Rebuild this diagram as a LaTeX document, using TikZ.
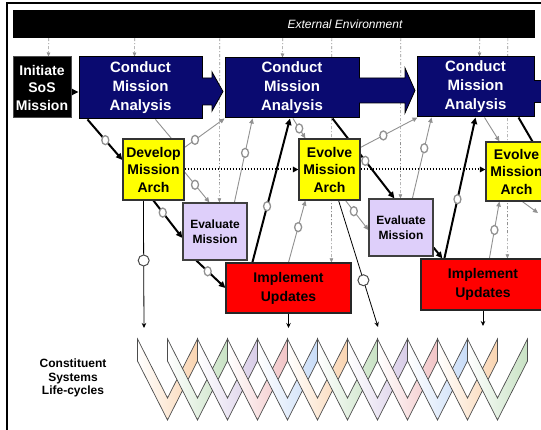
\documentclass[tikz,border=0pt]{standalone}
\usepackage{fontspec}
\setmainfont{Liberation Sans}
\usetikzlibrary{arrows.meta,calc,shapes.geometric}
\pgfdeclarelayer{back}
\pgfdeclarelayer{bg}
\pgfsetlayers{back,bg,main}

\definecolor{navybox}{RGB}{10,10,112}
\definecolor{archyellow}{RGB}{255,255,0}
\definecolor{evallav}{RGB}{222,207,250}
\definecolor{implred}{RGB}{255,0,0}
\definecolor{linkgrey}{RGB}{145,145,145}
\definecolor{lcpeach}{RGB}{250,212,176}
\definecolor{lcgreen}{RGB}{200,226,196}
\definecolor{lclav}{RGB}{216,204,232}
\definecolor{lcpink}{RGB}{242,196,198}
\definecolor{lcblue}{RGB}{200,220,248}

\tikzset{
  box/.style={draw, line width=1pt, inner sep=0pt, align=center,
    font=\bfseries\fontsize{14}{17.5}\selectfont},
  conduct/.style={box, fill=navybox, draw=black, text=white,
    font=\bfseries\fontsize{15}{19}\selectfont},
  initbox/.style={box, fill=black, draw=black!70, text=white},
  arch/.style={box, fill=archyellow, draw=black!80, line width=1.2pt},
  evalbox/.style={box, fill=evallav, draw=black!75, line width=1.2pt,
    font=\bfseries\fontsize{12}{14.5}\selectfont},
  impl/.style={box, fill=implred, draw=black!85, line width=1.2pt,
    font=\bfseries\fontsize{14}{19}\selectfont},
  flow/.style={line width=2pt, -{Triangle[length=6.5pt,width=6pt]}},
  flowplain/.style={line width=2pt},
  feed/.style={linkgrey, line width=0.9pt, -{Triangle[length=5pt,width=4.5pt]}},
  feedplain/.style={linkgrey, line width=0.9pt},
  handoff/.style={line width=2pt, dash pattern=on 1.5pt off 1.5pt,
    -{Triangle[length=5.5pt,width=5.5pt]}},
  envlink/.style={linkgrey, line width=0.6pt,
    dash pattern=on 3pt off 2pt on 1pt off 2pt, -{Triangle[length=4pt,width=3.5pt]}},
  drop/.style={black, line width=0.8pt, -{Stealth[length=5pt,width=4.5pt]}},
  cyc/.style={ellipse, draw=linkgrey, fill=white, line width=1.3pt,
    minimum width=7pt, minimum height=9pt, inner sep=0pt},
  bigcyc/.style={circle, draw=black!70, fill=white, line width=1pt,
    minimum size=11pt, inner sep=0pt},
  vee/.style={draw=black!70, line width=0.7pt, line join=miter},
  blockarrow/.style={fill=navybox},
  blockedge/.style={draw=black, line width=0.8pt},
}

\begin{document}
\begin{tikzpicture}[x=1pt, y=-1pt]
\useasboundingbox (0,0) rectangle (541,430);
\begin{pgfonlayer}{back}
\fill[white] (0,0) rectangle (541,430);
\end{pgfonlayer}

% outer frame
\draw[line width=2pt] (7,430) -- (7,3) -- (541,3);

% external environment band
\node[fill=black, draw=none, minimum width=522pt, minimum height=28pt, inner sep=0pt] (bar) at (274,24) {};
\node[text=white, font=\itshape\fontsize{12}{14}\selectfont, inner sep=0pt] (envlabel) at (345,24) {External Environment};

% process boxes
\node[initbox, minimum width=58pt, minimum height=61pt] (init) at (42,87.5) {Initiate\\SoS\\Mission};
\node[conduct, minimum width=123pt, minimum height=62pt] (ca1) at (140.5,88) {Conduct\\Mission\\Analysis};
\node[conduct, minimum width=134pt, minimum height=60pt] (ca2) at (292,88) {Conduct\\Mission\\Analysis};
\node[conduct, minimum width=117pt, minimum height=60pt] (ca3) at (475.5,87) {Conduct\\Mission\\Analysis};
\node[arch, minimum width=61pt, minimum height=61pt] (dev) at (153.5,169.5) {Develop\\Mission\\Arch};
\node[arch, minimum width=61pt, minimum height=61pt] (evo1) at (329.5,169.5) {Evolve\\Mission\\Arch};
\node[arch, minimum width=61pt, minimum height=59pt] (evo2) at (516.5,171.5) {Evolve\\Mission\\Arch};
\node[evalbox, minimum width=64pt, minimum height=57pt] (eval1) at (215,231.5) {Evaluate\\Mission};
\node[evalbox, minimum width=64pt, minimum height=57pt] (eval2) at (401,227.5) {Evaluate\\Mission};
\node[impl, minimum width=125pt, minimum height=50pt] (imp1) at (288.5,288) {Implement\\Updates};
\node[impl, minimum width=124pt, minimum height=51pt] (imp2) at (483,284.5) {Implement\\Updates};

% block arrows joining the mission analysis boxes
\fill[blockarrow] (201,78) -- (212,78) -- (212,72) -- (223,91.5) -- (212,111) -- (212,105) -- (201,105) -- cycle;
\draw[blockedge] (202,78) -- (212,78) -- (212,72) -- (223,91.5) -- (212,111) -- (212,105) -- (202,105);
\fill[blockarrow] (358,78) -- (405,78) -- (405,68) -- (415,90.5) -- (405,113) -- (405,103) -- (358,103) -- cycle;
\draw[blockedge] (359,78) -- (405,78) -- (405,68) -- (415,90.5) -- (405,113) -- (405,103) -- (359,103);
\fill[blockarrow] (533,80) -- (545,80) -- (545,102) -- (533,102) -- cycle;
\draw[blockedge] (534,80) -- (545,80);
\draw[blockedge] (534,102) -- (545,102);

% constituent systems life-cycles
\node[font=\bfseries\fontsize{12}{13.5}\selectfont, align=center, inner sep=0pt] (lclabel) at (73,378) {Constituent\\Systems\\Life-cycles};
\foreach \i/\c in {0/lcpeach,1/lcgreen,2/lclav,3/lcpink,4/lcblue,5/lcpeach,6/lcgreen,7/lclav,8/lcpink,9/lcblue,10/lcpeach,11/lcgreen}{
  \pgfmathsetmacro{\xa}{137.5+30*\i}
  \draw[vee, left color=white, right color=\c]
    (\xa,339) -- (\xa+30,398) -- (\xa+60,339) -- (\xa+60,361) -- (\xa+30,420) -- (\xa,361) -- cycle;
}

\coordinate (lc1) at (144,328);
\coordinate (lc2) at (288.5,328);
\coordinate (lc3) at (378,327);
\coordinate (lc4) at (483,326);
\coordinate (exitR) at (538,213);

\begin{pgfonlayer}{bg}
% environment inputs
\draw[envlink] ([xshift=36]bar.south west) -- ([xshift=36]init.north west);
\draw[envlink] ([xshift=122]bar.south west) -- ([xshift=56]ca1.north west);
\draw[envlink] ([xshift=207]bar.south west) -- ([xshift=37]eval1.north west);
\draw[envlink] ([xshift=270]bar.south west) -- ([xshift=58]ca2.north west);
\draw[envlink] ([xshift=319]bar.south west) -- ([xshift=106]imp1.north west);
\draw[envlink] ([xshift=388]bar.south west) -- ([xshift=32]eval2.north west);
\draw[envlink] ([xshift=467]bar.south west) -- ([xshift=63]ca3.north west);
\draw[envlink] ([xshift=495]bar.south west) -- ([xshift=87]imp2.north west);

% main flow
\draw[flow] ([yshift=-4.5]init.east) -- ([yshift=-4]ca1.west);
\draw[flow] ([xshift=9]ca1.south west) -- node[cyc, pos=0.51] (cy1) {} ([yshift=9.5]dev.west);
\draw[flow] (dev.south) -- node[cyc, pos=0.32] (cy2) {} ([yshift=-6.5]eval1.west);
\draw[flow] ([xshift=14]eval1.south west) -- node[cyc, pos=0.39] (cy3) {} (imp1.west);
\draw[flow] ([xshift=27]imp1.north west) -- node[cyc, pos=0.39] (cy4) {} ([xshift=-2]ca2.south);
\draw[flow] ([xshift=-27]ca2.south east) -- node[cyc, pos=0.53] (cy5) {} ([xshift=26]eval2.north west);
\draw[flow] ([yshift=9]eval2.south east) -- ([xshift=22]imp2.north west);
\draw[flow] ([xshift=24]imp2.north west) -- node[cyc, pos=0.42] (cy6) {} (ca3.south);
\draw[flowplain] ([xshift=-16]ca3.south east) -- ([xshift=47]evo2.north west);

% architecture hand-offs
\draw[handoff] (dev.east) -- (evo1.west);
\draw[handoff] (evo1.east) -- (evo1.east -| evo2.west);

% feedback paths
\draw[feedplain] ([xshift=77]ca1.south west) -- ([xshift=49]dev.north west);
\draw[feed] ([yshift=-9]dev.north east) -- node[cyc, pos=0.26] (cy7) {} (ca2.south west);
\draw[feed] ([yshift=-2.5]dev.east) -- node[cyc, pos=0.42] (cy8) {} ([xshift=27]eval1.north west);
\draw[feed] ([xshift=52]eval1.north west) -- node[cyc, pos=0.59] (cy9) {} ([xshift=28]ca2.south west);
\draw[feed] ([xshift=1]ca2.south) -- node[cyc, pos=0.5] (cy10) {} ([xshift=7]evo1.north west);
\draw[feed] ([yshift=-9]evo1.north east) -- node[cyc, pos=0.4] (cy11) {} ([xshift=1]ca3.south west);
\draw[feed] ([xshift=-15]evo1.south east) -- node[cyc, pos=0.36] (cy12) {} ([yshift=-2.5]eval2.west);
\draw[feed] (imp1.north) -- node[cyc, pos=0.57] (cy13) {} ([xshift=7]evo1.south west);
\draw[feed] ([xshift=44]eval2.north west) -- node[cyc, pos=0.62] (cy14) {} ([xshift=15]ca3.south west);
\draw[feed] ([xshift=68]ca3.south west) -- ([xshift=14]evo2.north west);
\draw[feed] ([xshift=69]imp2.north west) -- node[cyc, pos=0.5] (cy15) {} ([xshift=14]evo2.south west);
\draw[feed] ([xshift=37]evo2.south west) -- (exitR);

% drops to the constituent systems
\draw[drop] ([xshift=21]dev.south west) -- node[bigcyc, pos=0.47] (bc1) {} (lc1);
\draw[drop] ([xshift=-22]evo1.south east) -- node[bigcyc, pos=0.63] (bc2) {} (lc3);
\draw[drop] (imp1.south) -- (lc2);
\draw[drop] (imp2.south) -- (lc4);
\end{pgfonlayer}
\end{tikzpicture}
\end{document}
